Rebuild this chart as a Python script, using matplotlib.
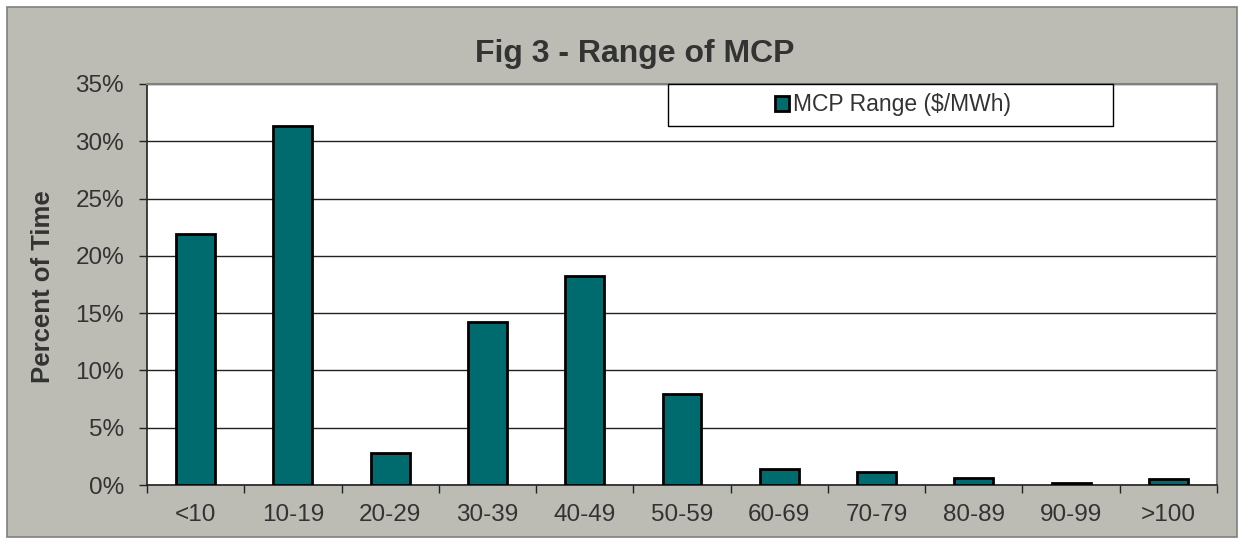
import numpy as np
import matplotlib
matplotlib.use('Agg')
import matplotlib.pyplot as plt
from matplotlib.patches import Rectangle
from matplotlib.ticker import FixedLocator, FuncFormatter

# values (percent of time per MCP range)
ranges = ['<10', '10-19', '20-29', '30-39', '40-49', '50-59',
          '60-69', '70-79', '80-89', '90-99', '>100']
percent = [21.9, 31.3, 2.76, 14.27, 18.2, 7.93, 1.42, 1.16, 0.64, 0.2, 0.5]
yticks = [0, 5, 10, 15, 20, 25, 30, 35]

plt.rcParams['font.family'] = ['Liberation Sans', 'DejaVu Sans']

bg = '#bcbcb4'
teal = '#006b6e'
txt = '#333333'

fig = plt.figure(figsize=(12.44, 5.44), dpi=100)
fig.patch.set_facecolor('white')
# grey chart area with a border
fig.patches.append(Rectangle((7 / 1244, 7 / 544), 1230 / 1244, 530 / 544,
                             transform=fig.transFigure, facecolor=bg,
                             edgecolor='#7f7f7f', lw=1.2, zorder=-10))

ax = fig.add_axes([147 / 1244, 1 - 485 / 544, 1070 / 1244, 401 / 544])
ax.set_facecolor('white')

x = np.arange(len(ranges))
ax.bar(x, percent, width=0.4, color=teal, edgecolor='black', lw=2,
       zorder=3, label='MCP Range ($/MWh)')

ax.set_xlim(-0.5, len(ranges) - 0.5)
ax.set_ylim(0, 35)
ax.set_yticks(yticks)
ax.yaxis.set_major_formatter(FuncFormatter(lambda v, p: f'{v:.0f}%'))
ax.grid(axis='y', color='#222222', lw=1, zorder=1)

ax.set_xticks(x)
ax.set_xticklabels(ranges)
ax.xaxis.set_minor_locator(FixedLocator(np.arange(-0.5, len(ranges), 1.0)))
ax.tick_params(axis='x', which='major', length=0, pad=14, labelsize=17.5, labelcolor=txt)
ax.tick_params(axis='x', which='minor', length=5.5, width=1, color='#222222', direction='out')
ax.tick_params(axis='y', length=5.5, width=1, color='#222222', labelsize=17.5,
               labelcolor=txt, pad=11)

for s in ['left', 'bottom']:
    ax.spines[s].set_color('#222222')
    ax.spines[s].set_linewidth(1.2)
for s in ['top', 'right']:
    ax.spines[s].set_color('#808080')
    ax.spines[s].set_linewidth(1.5)

ax.set_ylabel('Percent of Time', fontsize=18.5, fontweight='bold', color=txt)
ax.yaxis.set_label_coords(43 / 1244, 1 - 287 / 544, transform=fig.transFigure)
ax.yaxis.label.set_va('center')

fig.text(635 / 1244, 1 - 54 / 544, 'Fig 3 - Range of MCP', ha='center', va='center',
         fontsize=23, fontweight='bold', color=txt)

# legend box
fig.patches.append(Rectangle((668 / 1244, 1 - 126 / 544), 445 / 1244, 42 / 544,
                             transform=fig.transFigure, facecolor='white',
                             edgecolor='black', lw=1, zorder=5))
leg = fig.legend(*ax.get_legend_handles_labels(), loc='center',
                 bbox_to_anchor=(893 / 1244, 1 - 105 / 544), fontsize=16.5,
                 frameon=False, handlelength=0.6, handleheight=0.6,
                 handletextpad=0.2, borderpad=0)
leg.set_zorder(6)
for t in leg.get_texts():
    t.set_color(txt)

fig.savefig('out.png', dpi=100, facecolor=fig.get_facecolor())
